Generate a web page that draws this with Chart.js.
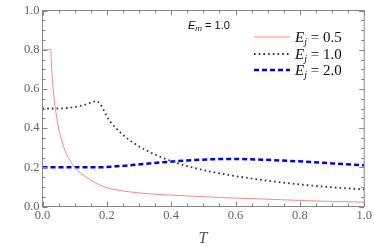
<!DOCTYPE html>
<html>
<head>
<meta charset="utf-8">
<script src="https://cdn.jsdelivr.net/npm/chart.js@4.4.1/dist/chart.umd.min.js"></script>
<style>
html,body{margin:0;padding:0;background:#fff;}
#wrap{width:374px;height:247px;position:relative;}
</style>
</head>
<body>
<div id="wrap"><canvas id="c" width="374" height="247"></canvas></div>
<script>
// Data
const tRed = [0, 0.025, 0.03, 0.035, 0.04, 0.05, 0.06, 0.07, 0.08, 0.1, 0.12, 0.15, 0.18, 0.225, 0.27, 0.33, 0.4, 0.5, 0.6, 0.7, 0.8, 0.9, 1.0];
const eRed = [0.8, 0.8, 0.66, 0.57, 0.5, 0.4, 0.335, 0.285, 0.25, 0.2, 0.168, 0.135, 0.108, 0.086, 0.075, 0.065, 0.058, 0.05, 0.043, 0.037, 0.031, 0.026, 0.022];
const tBlack = [0, 0.05, 0.08, 0.1, 0.13, 0.168, 0.209, 0.25, 0.287, 0.328, 0.4, 0.473, 0.576, 0.68, 0.81, 0.9, 1.0];
const eBlack = [0.5, 0.5, 0.503, 0.508, 0.518, 0.537, 0.436, 0.366, 0.32, 0.282, 0.232, 0.196, 0.162, 0.136, 0.111, 0.098, 0.087];
const tBlue = [0, 0.1, 0.173, 0.23, 0.287, 0.34, 0.4, 0.473, 0.576, 0.68, 0.81, 0.9, 1.0];
const eBlue = [0.2, 0.2, 0.2, 0.205, 0.2125, 0.221, 0.229, 0.237, 0.2425, 0.239, 0.229, 0.22, 0.21];
const xTicks = [0, 0.2, 0.4, 0.6, 0.8, 1.0];
const yTicks = [0, 0.2, 0.4, 0.6, 0.8, 1.0];
const legendLabels = ["0.5", "1.0", "2.0"];

const pts = (xs, ys) => xs.map((x, i) => ({x: x, y: ys[i]}));
const serif = "'Liberation Serif', 'DejaVu Serif', serif";
const labelColor = '#666';

const series = [
  {data: pts(tRed, eRed), borderColor: 'rgb(255,135,135)', borderWidth: 1, borderDash: []},
  {data: pts(tBlack, eBlack), borderColor: '#333', borderWidth: 1.8, borderDash: [1.6, 3.1]},
  {data: pts(tBlue, eBlue), borderColor: '#0000f0', borderWidth: 2.5, borderDash: [5, 3]}
];

const framePlugin = {
  id: 'frame',
  afterDraw(chart) {
    const ctx = chart.ctx;
    const a = chart.chartArea;
    const xs = chart.scales.x, ys = chart.scales.y;
    ctx.save();
    ctx.strokeStyle = '#888';
    ctx.lineWidth = 1;
    ctx.strokeRect(a.left, a.top, a.right - a.left, a.bottom - a.top);
    ctx.beginPath();
    for (let i = 0; i <= 20; i++) {
      const v = i * 0.05;
      const major = i % 4 === 0;
      const len = major ? 5 : 3;
      const px = Math.round(xs.getPixelForValue(v)) + 0.5;
      ctx.moveTo(px, a.bottom); ctx.lineTo(px, a.bottom - len);
      ctx.moveTo(px, a.top); ctx.lineTo(px, a.top + len);
      const py = Math.round(ys.getPixelForValue(v)) + 0.5;
      ctx.moveTo(a.left, py); ctx.lineTo(a.left + len, py);
      ctx.moveTo(a.right, py); ctx.lineTo(a.right - len, py);
    }
    ctx.stroke();

    // annotation E_m = 1.0
    ctx.fillStyle = '#111';
    ctx.textBaseline = 'alphabetic';
    ctx.textAlign = 'left';
    let x0 = 188, y0 = 29;
    ctx.font = "italic 11px 'Liberation Sans', Arial, sans-serif";
    ctx.fillText('E', x0, y0);
    let w = ctx.measureText('E').width;
    ctx.font = "italic 8px 'Liberation Sans', Arial, sans-serif";
    ctx.fillText('m', x0 + w, y0 + 2);
    let w2 = ctx.measureText('m').width;
    ctx.font = "11px 'Liberation Sans', Arial, sans-serif";
    ctx.fillText(' = 1.0', x0 + w + w2, y0);

    // legend
    const rows = [37, 54, 70];
    rows.forEach((ry, i) => {
      const s = series[i];
      ctx.beginPath();
      ctx.strokeStyle = s.borderColor;
      ctx.lineWidth = s.borderWidth;
      ctx.setLineDash(s.borderDash);
      ctx.moveTo(254, ry); ctx.lineTo(290, ry);
      ctx.stroke();
      ctx.setLineDash([]);
      ctx.fillStyle = '#111';
      ctx.font = "italic 15px " + serif;
      const bx = 295, by = ry + 5;
      ctx.fillText('E', bx, by);
      const we = ctx.measureText('E').width;
      ctx.font = "italic 10px " + serif;
      ctx.fillText('j', bx + we, by + 3);
      const wj = ctx.measureText('j').width;
      ctx.font = "15px " + serif;
      ctx.fillText(' = ' + legendLabels[i], bx + we + wj, by);
    });

    // x-axis title
    ctx.font = "italic 16px " + serif;
    ctx.fillStyle = '#555';
    ctx.textAlign = 'center';
    ctx.fillText('T', 203, 243);
    ctx.restore();
  }
};

new Chart(document.getElementById('c'), {
  type: 'line',
  data: {
    datasets: series.map(s => ({
      data: s.data,
      borderColor: s.borderColor,
      borderWidth: s.borderWidth,
      borderDash: s.borderDash,
      borderCapStyle: 'butt',
      pointRadius: 0,
      fill: false,
      cubicInterpolationMode: 'monotone'
    }))
  },
  options: {
    responsive: false,
    animation: false,
    events: [],
    layout: {padding: {left: 0, top: 6, right: 9, bottom: 0}},
    plugins: {legend: {display: false}, tooltip: {enabled: false}},
    scales: {
      x: {
        type: 'linear', min: 0, max: 1,
        afterFit(s) { s.height = 40.5; },
        afterBuildTicks(s) { s.ticks = xTicks.map(v => ({value: v})); },
        grid: {display: false, drawTicks: false, tickLength: 0},
        border: {display: false},
        ticks: {
          autoSkip: false, maxRotation: 0, padding: 2,
          color: labelColor, font: {family: serif, size: 12.5},
          callback: v => Number(v).toFixed(1)
        }
      },
      y: {
        type: 'linear', min: 0, max: 1,
        afterFit(s) { s.width = 42.5; },
        afterBuildTicks(s) { s.ticks = yTicks.map(v => ({value: v})); },
        grid: {display: false, drawTicks: false, tickLength: 0},
        border: {display: false},
        ticks: {
          autoSkip: false, padding: 3,
          color: labelColor, font: {family: serif, size: 12.5},
          callback: v => Number(v).toFixed(1)
        }
      }
    }
  },
  plugins: [framePlugin]
});
</script>
</body>
</html>
